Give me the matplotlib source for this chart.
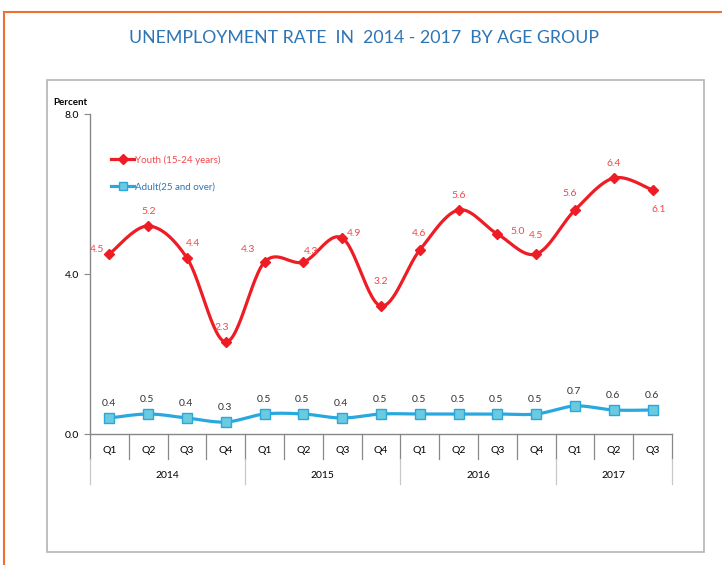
import numpy as np
import matplotlib
matplotlib.use("Agg")
import matplotlib.pyplot as plt
from matplotlib.lines import Line2D
from matplotlib.patches import Rectangle
import matplotlib.transforms as mtransforms

plt.rcParams['font.family'] = ['Lato', 'DejaVu Sans']

quarters = ["Q1", "Q2", "Q3", "Q4", "Q1", "Q2", "Q3", "Q4",
            "Q1", "Q2", "Q3", "Q4", "Q1", "Q2", "Q3"]
years = ["2014", "2015", "2016", "2017"]
year_counts = [4, 4, 4, 3]
youth = [4.5, 5.2, 4.4, 2.3, 4.3, 4.3, 4.9, 3.2, 4.6, 5.6, 5.0, 4.5, 5.6, 6.4, 6.1]
adult = [0.4, 0.5, 0.4, 0.3, 0.5, 0.5, 0.4, 0.5, 0.5, 0.5, 0.5, 0.5, 0.7, 0.6, 0.6]
youth_label = "Youth (15-24 years)"
adult_label = "Adult(25 and over)"
title = "UNEMPLOYMENT RATE  IN  2014 - 2017  BY AGE GROUP"

# label placement offsets (pixels) for youth labels
youth_off = [(-12, 5), (0, 15), (6, 14), (-4, 15), (-16, 13), (8, 10), (12, 4), (0, 24),
             (-1, 17), (0, 15), (20, 3), (0, 18), (-5, 17), (0, 15), (6, -20)]

RED = "#EE1C25"
RED_T = "#F04848"
BLUE = "#29A8E0"
BLUE_F = "#6CCADF"
TITLE_C = "#2E75B6"
FS = 7.5


def smooth(x, y, n=30):
    x = np.asarray(x, float)
    y = np.asarray(y, float)
    px = np.concatenate([[x[0]], x, [x[-1]]])
    py = np.concatenate([[y[0]], y, [y[-1]]])
    xs, ys = [], []
    t = np.linspace(0, 1, n)
    for i in range(len(x) - 1):
        p0 = np.array([px[i + 1], py[i + 1]])
        p3 = np.array([px[i + 2], py[i + 2]])
        c1 = p0 + (np.array([px[i + 2], py[i + 2]]) - np.array([px[i], py[i]])) / 6
        c2 = p3 - (np.array([px[i + 3], py[i + 3]]) - np.array([px[i + 1], py[i + 1]])) / 6
        b = ((1 - t) ** 3)[:, None] * p0 + (3 * (1 - t) ** 2 * t)[:, None] * c1 \
            + (3 * (1 - t) * t ** 2)[:, None] * c2 + (t ** 3)[:, None] * p3
        xs.append(b[:, 0])
        ys.append(b[:, 1])
    return np.concatenate(xs), np.concatenate(ys)


W, H = 722, 565
fig = plt.figure(figsize=(W / 100, H / 100), dpi=100)

# orange frame (top and left edges)
fig.add_artist(Line2D([4 / W, 4 / W], [0, 1 - 12 / H], color="#F07030", lw=1.5))
fig.add_artist(Line2D([4 / W, 1], [1 - 12 / H, 1 - 12 / H], color="#F07030", lw=1.5))
# inner grey box
fig.add_artist(Rectangle((47 / W, 1 - 552 / H), (704 - 47) / W, (552 - 80) / H,
                         fill=False, edgecolor="#B4B4B4", lw=1.2))

fig.text(364 / W, 1 - 38 / H, title, ha="center", va="center",
         color=TITLE_C, fontsize=12.8)

ax = fig.add_axes([90 / W, 1 - 434 / H, (672 - 90) / W, (434 - 114) / H])
x = np.arange(len(youth))
ax.set_xlim(-0.5, len(youth) - 0.5)
ax.set_ylim(0, 8)

sx, sy = smooth(x, youth)
ax.plot(sx, sy, color=RED, lw=2.3, zorder=3, solid_capstyle="round")
ax.plot(x, youth, ls="none", marker="D", ms=5.5, color=RED, zorder=4)
ax.plot([], [], color=RED, lw=2.3, marker="D", ms=5, label=youth_label)

ax2x, ax2y = smooth(x, adult)
ax.plot(ax2x, ax2y, color=BLUE, lw=2.3, zorder=3)
ax.plot(x, adult, ls="none", marker="s", ms=6.5, markerfacecolor=BLUE_F,
        markeredgecolor=BLUE, markeredgewidth=1, zorder=4)
ax.plot([], [], color=BLUE, lw=2.3, marker="s", ms=5.5, markerfacecolor=BLUE_F,
        markeredgecolor=BLUE, label=adult_label)

for i, v in enumerate(youth):
    dx, dy = youth_off[i]
    ax.annotate(f"{v:.1f}", (i, v), xytext=(dx, dy), textcoords="offset pixels",
                ha="center", va="center", fontsize=FS, color=RED_T)
for i, v in enumerate(adult):
    ax.annotate(f"{v:.1f}", (i, v), xytext=(-1, 14), textcoords="offset pixels",
                ha="center", va="center", fontsize=FS, color="#333333")

leg = ax.legend(loc="upper left", bbox_to_anchor=(0.036, 0.872), frameon=False,
                fontsize=7, handlelength=2.4, handletextpad=0.1, labelspacing=1.85,
                borderaxespad=0, borderpad=0)
leg.get_texts()[0].set_color(RED_T)
leg.get_texts()[1].set_color(TITLE_C)

for s in ["top", "right"]:
    ax.spines[s].set_visible(False)
for s in ["left", "bottom"]:
    ax.spines[s].set_color("#888888")
    ax.spines[s].set_linewidth(1)
ax.set_yticks([0, 4, 8])
ax.set_yticklabels(["0.0", "4.0", "8.0"], fontsize=FS)
ax.tick_params(axis="y", length=4, width=0.8, color="#888888", pad=4)
ax.set_xticks([])
ax.text(-0.034, 1.035, "Percent", transform=ax.transAxes, fontsize=7,
        fontweight="bold", ha="center", va="center")

trans = mtransforms.blended_transform_factory(ax.transData, ax.transAxes)
year_bounds = np.cumsum([0] + year_counts) - 0.5
for b in np.arange(-0.5, len(youth), 1.0):
    ax.plot([b, b], [0, -0.078], transform=trans, clip_on=False,
            color="#888888", lw=0.9)
for b in year_bounds:
    ax.plot([b, b], [-0.078, -0.156], transform=trans, clip_on=False,
            color="#C8C8C8", lw=0.9)
for i, q in enumerate(quarters):
    ax.text(i, -0.053, q, transform=trans, ha="center", va="center", fontsize=FS)
for j, yr in enumerate(years):
    c = (year_bounds[j] + year_bounds[j + 1]) / 2
    ax.text(c, -0.131, yr, transform=trans, ha="center", va="center", fontsize=FS)

fig.savefig("out.png", dpi=100)
